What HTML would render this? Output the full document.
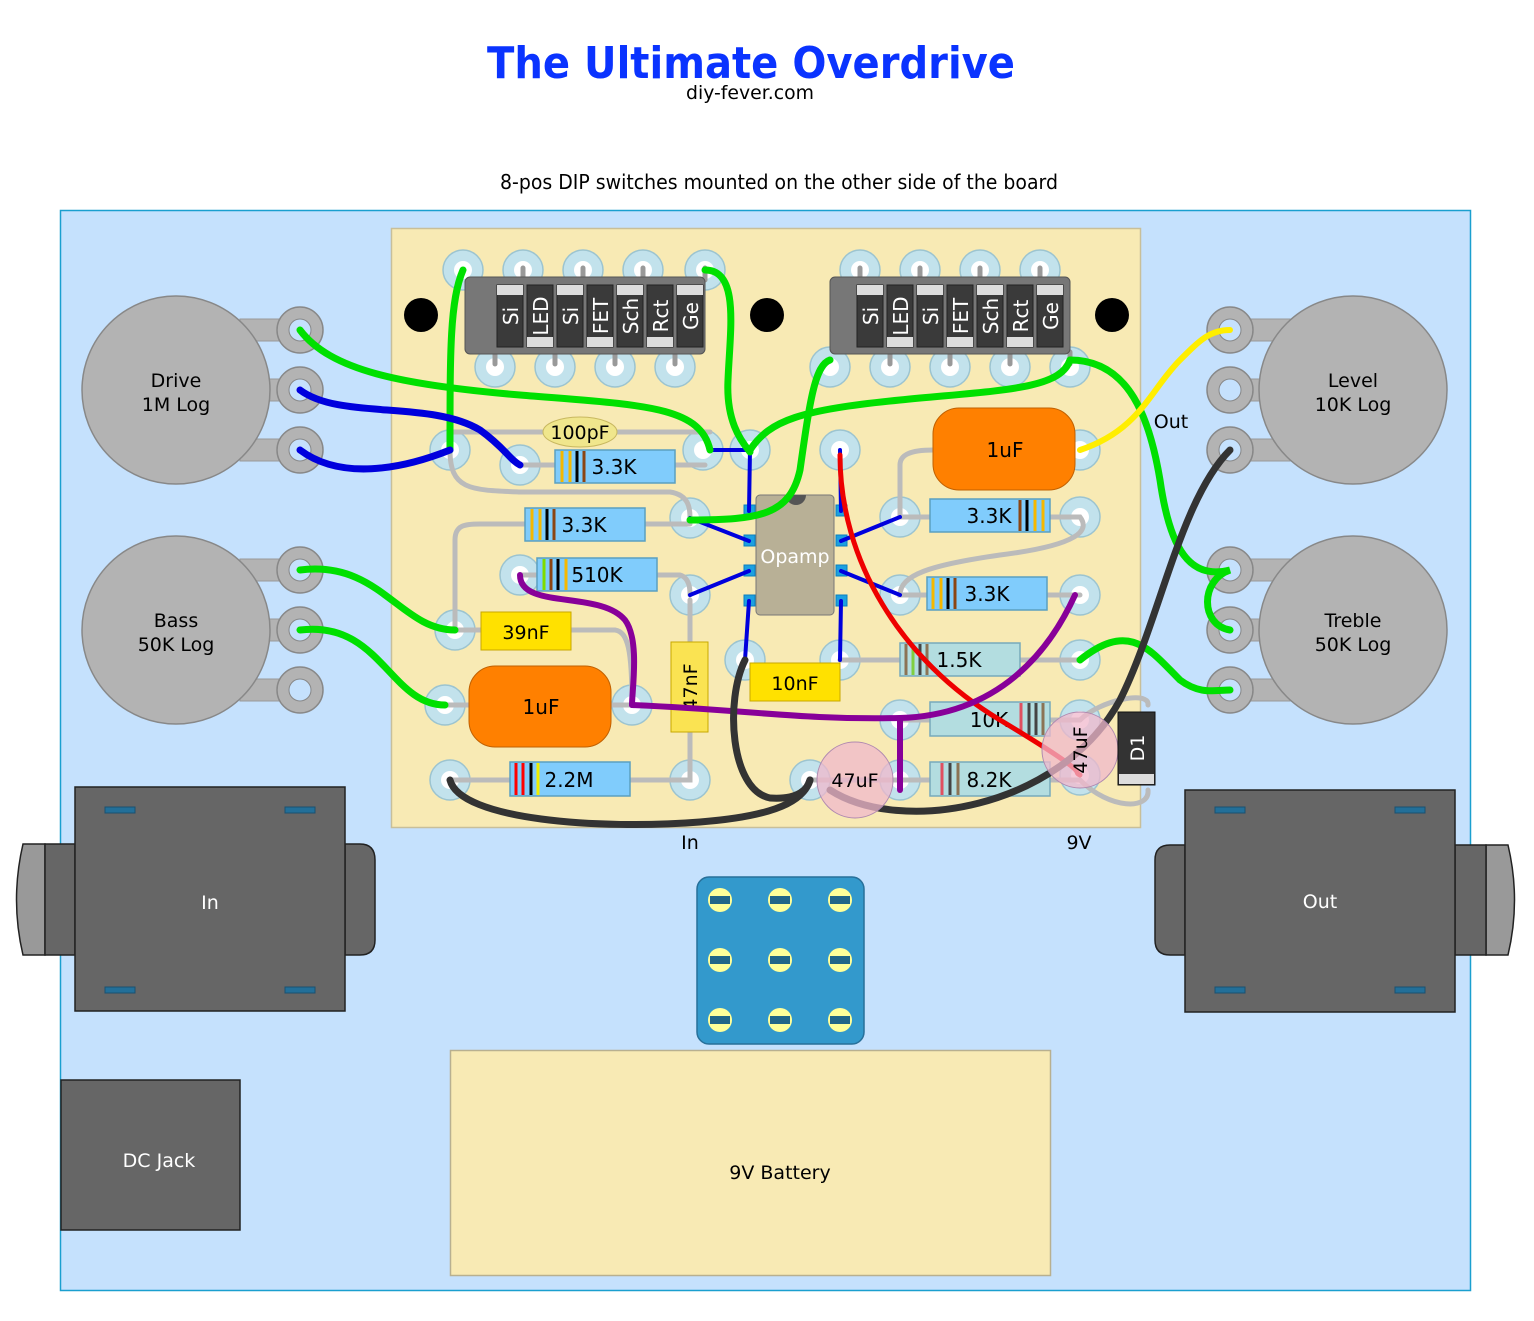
<!DOCTYPE html>
<html><head><meta charset="utf-8"><style>
html,body{margin:0;padding:0;background:#fff}
svg{display:block}
text{font-family:"DejaVu Sans","Liberation Sans",sans-serif}
</style></head><body>
<svg width="1534" height="1321" viewBox="0 0 1534 1321" xmlns="http://www.w3.org/2000/svg">
<defs>
<g id="pad"><circle r="20" fill="#c2e2ec" stroke="#9cc4d0" stroke-width="1.5"/><circle r="9" fill="#fff"/></g>
<g id="lug"><circle r="23" fill="#b3b3b3" stroke="#888" stroke-width="1.5"/><circle r="11" fill="#c5e1fd" stroke="#888"/></g>
<g id="fs"><circle r="12" fill="#ffff99"/><rect x="-10" y="-4" width="20" height="8" fill="#226688"/></g>
</defs>
<text x="751" y="78" font-size="44" font-weight="bold" fill="#0a33ff" text-anchor="middle" textLength="528" lengthAdjust="spacingAndGlyphs">The Ultimate Overdrive</text>
<text x="750" y="99" font-size="19" text-anchor="middle" textLength="128" lengthAdjust="spacingAndGlyphs">diy-fever.com</text>
<text x="779" y="189" font-size="20" text-anchor="middle" textLength="558" lengthAdjust="spacingAndGlyphs">8-pos DIP switches mounted on the other side of the board</text>

<rect x="60.5" y="210.5" width="1410" height="1080" fill="#c5e1fd" stroke="#1a9fcf" stroke-width="1.5"/>

<g>
<rect x="240" y="319" width="60" height="22" fill="#b3b3b3" stroke="#999"/>
<rect x="240" y="379" width="60" height="22" fill="#b3b3b3" stroke="#999"/>
<rect x="240" y="439" width="60" height="22" fill="#b3b3b3" stroke="#999"/>
<circle cx="176" cy="390" r="94" fill="#b3b3b3" stroke="#888" stroke-width="1.5"/>
<use href="#lug" x="300" y="330"/><use href="#lug" x="300" y="390"/><use href="#lug" x="300" y="450"/>
<text x="176" y="387" font-size="19" text-anchor="middle">Drive</text>
<text x="176" y="411" font-size="19" text-anchor="middle">1M Log</text>
<rect x="240" y="559" width="60" height="22" fill="#b3b3b3" stroke="#999"/>
<rect x="240" y="619" width="60" height="22" fill="#b3b3b3" stroke="#999"/>
<rect x="240" y="679" width="60" height="22" fill="#b3b3b3" stroke="#999"/>
<circle cx="176" cy="630" r="94" fill="#b3b3b3" stroke="#888" stroke-width="1.5"/>
<use href="#lug" x="300" y="570"/><use href="#lug" x="300" y="630"/><use href="#lug" x="300" y="690"/>
<text x="176" y="627" font-size="19" text-anchor="middle">Bass</text>
<text x="176" y="651" font-size="19" text-anchor="middle">50K Log</text>
<rect x="1230" y="319" width="60" height="22" fill="#b3b3b3" stroke="#999"/>
<rect x="1230" y="379" width="60" height="22" fill="#b3b3b3" stroke="#999"/>
<rect x="1230" y="439" width="60" height="22" fill="#b3b3b3" stroke="#999"/>
<circle cx="1353" cy="390" r="94" fill="#b3b3b3" stroke="#888" stroke-width="1.5"/>
<use href="#lug" x="1230" y="330"/><use href="#lug" x="1230" y="390"/><use href="#lug" x="1230" y="450"/>
<text x="1353" y="387" font-size="19" text-anchor="middle">Level</text>
<text x="1353" y="411" font-size="19" text-anchor="middle">10K Log</text>
<rect x="1230" y="559" width="60" height="22" fill="#b3b3b3" stroke="#999"/>
<rect x="1230" y="619" width="60" height="22" fill="#b3b3b3" stroke="#999"/>
<rect x="1230" y="679" width="60" height="22" fill="#b3b3b3" stroke="#999"/>
<circle cx="1353" cy="630" r="94" fill="#b3b3b3" stroke="#888" stroke-width="1.5"/>
<use href="#lug" x="1230" y="570"/><use href="#lug" x="1230" y="630"/><use href="#lug" x="1230" y="690"/>
<text x="1353" y="627" font-size="19" text-anchor="middle">Treble</text>
<text x="1353" y="651" font-size="19" text-anchor="middle">50K Log</text>
</g>

<rect x="391.5" y="228.5" width="749" height="599" fill="#f8eab4" stroke="#c8bf9a" stroke-width="1.5"/>
<circle cx="421" cy="315" r="17" fill="#000"/><circle cx="767" cy="315" r="17" fill="#000"/><circle cx="1112" cy="315" r="17" fill="#000"/>

<g>
<use href="#pad" x="463" y="270"/><use href="#pad" x="523" y="270"/><use href="#pad" x="583" y="270"/><use href="#pad" x="643" y="270"/><use href="#pad" x="705" y="270"/>
<use href="#pad" x="495" y="367"/><use href="#pad" x="555" y="367"/><use href="#pad" x="615" y="367"/><use href="#pad" x="675" y="367"/>
<use href="#pad" x="860" y="270"/><use href="#pad" x="920" y="270"/><use href="#pad" x="980" y="270"/><use href="#pad" x="1040" y="270"/>
<use href="#pad" x="830" y="367"/><use href="#pad" x="890" y="367"/><use href="#pad" x="950" y="367"/><use href="#pad" x="1010" y="367"/><use href="#pad" x="1070" y="367"/>
<use href="#pad" x="450" y="450"/><use href="#pad" x="520" y="465"/><use href="#pad" x="703" y="450"/><use href="#pad" x="750" y="450"/><use href="#pad" x="840" y="450"/><use href="#pad" x="1080" y="450"/>
<use href="#pad" x="690" y="518"/><use href="#pad" x="900" y="517"/><use href="#pad" x="1080" y="517"/>
<use href="#pad" x="520" y="575"/><use href="#pad" x="690" y="595"/><use href="#pad" x="900" y="595"/><use href="#pad" x="1080" y="595"/>
<use href="#pad" x="455" y="630"/><use href="#pad" x="745" y="660"/><use href="#pad" x="840" y="660"/><use href="#pad" x="1080" y="660"/>
<use href="#pad" x="445" y="705"/><use href="#pad" x="632" y="705"/><use href="#pad" x="900" y="720"/><use href="#pad" x="1080" y="720"/>
<use href="#pad" x="450" y="780"/><use href="#pad" x="690" y="780"/><use href="#pad" x="810" y="780"/><use href="#pad" x="900" y="780"/><use href="#pad" x="1080" y="775"/>
</g>

<g fill="none" stroke="#bbb" stroke-width="5" stroke-linecap="round">
<path d="M450,432 L710,432"/>
<path d="M520,465 L705,465"/>
<path d="M450,450 C450,490 470,490 520,492 L670,492 C690,495 690,510 690,518"/>
<path d="M455,630 L455,540 C455,525 465,524 480,524 L690,524"/>
<path d="M520,575 L680,575 C690,578 690,590 690,595"/>
<path d="M455,630 L615,630 C628,632 632,650 632,705"/>
<path d="M445,705 L632,705"/>
<path d="M450,780 L690,780 L690,600"/>
<path d="M900,517 L1080,517 C1090,530 1080,545 1000,555 C930,565 900,575 900,595 L1080,595"/>
<path d="M900,517 L900,465 C900,455 910,450 933,450"/>
<path d="M840,660 L1080,660"/>
<path d="M900,720 L1080,720"/>
<path d="M810,780 L1080,780"/>
<path d="M1080,720 C1100,700 1150,690 1148,705 M1080,780 C1110,810 1150,810 1148,790"/>
</g>

<g stroke="#999" stroke-width="5" stroke-linecap="round">
<path d="M523,268v12M583,268v12M643,268v12M705,268v12M495,352v12M555,352v12M615,352v12M675,352v12"/>
<path d="M860,268v12M920,268v12M980,268v12M1040,268v12M890,352v12M950,352v12M1010,352v12M1070,352v12"/>
</g>
<g>
<rect x="465" y="277" width="240" height="77" rx="5" fill="#777" stroke="#555"/>
<rect x="830" y="277" width="240" height="77" rx="5" fill="#777" stroke="#555"/>
</g>
<g font-size="20" fill="#fff">
<g id="dipL">
<rect x="497" y="285" width="26" height="62" fill="#3a3a3a" stroke="#222"/><rect x="497" y="285" width="26" height="10" fill="#ddd"/>
<rect x="527" y="285" width="26" height="62" fill="#3a3a3a" stroke="#222"/><rect x="527" y="337" width="26" height="10" fill="#ddd"/>
<rect x="557" y="285" width="26" height="62" fill="#3a3a3a" stroke="#222"/><rect x="557" y="285" width="26" height="10" fill="#ddd"/>
<rect x="587" y="285" width="26" height="62" fill="#3a3a3a" stroke="#222"/><rect x="587" y="337" width="26" height="10" fill="#ddd"/>
<rect x="617" y="285" width="26" height="62" fill="#3a3a3a" stroke="#222"/><rect x="617" y="285" width="26" height="10" fill="#ddd"/>
<rect x="647" y="285" width="26" height="62" fill="#3a3a3a" stroke="#222"/><rect x="647" y="337" width="26" height="10" fill="#ddd"/>
<rect x="677" y="285" width="26" height="62" fill="#3a3a3a" stroke="#222"/><rect x="677" y="285" width="26" height="10" fill="#ddd"/>
<text transform="translate(518,316) rotate(-90)" text-anchor="middle">Si</text>
<text transform="translate(548,316) rotate(-90)" text-anchor="middle">LED</text>
<text transform="translate(578,316) rotate(-90)" text-anchor="middle">Si</text>
<text transform="translate(608,316) rotate(-90)" text-anchor="middle">FET</text>
<text transform="translate(638,316) rotate(-90)" text-anchor="middle">Sch</text>
<text transform="translate(668,316) rotate(-90)" text-anchor="middle">Rct</text>
<text transform="translate(698,316) rotate(-90)" text-anchor="middle">Ge</text>
</g>
<use href="#dipL" x="360" y="0"/>
</g>

<g stroke="#5aa0c0" stroke-width="1.5">
<rect x="555" y="450" width="120" height="33" fill="#80ccfc"/>
<rect x="525" y="508" width="120" height="33" fill="#80ccfc"/>
<rect x="537" y="558" width="120" height="33" fill="#80ccfc"/>
<rect x="930" y="499" width="120" height="33" fill="#80ccfc"/>
<rect x="927" y="577" width="120" height="33" fill="#80ccfc"/>
<rect x="510" y="762" width="120" height="34" fill="#80ccfc"/>
<rect x="900" y="643" width="120" height="33" fill="#b3dde0" stroke="#7ab"/>
<rect x="930" y="702" width="120" height="34" fill="#b3dde0" stroke="#7ab"/>
<rect x="930" y="762" width="120" height="34" fill="#b3dde0" stroke="#7ab"/>
</g>
<g stroke-width="3">
<path d="M562,451v31M570,451v31" stroke="#f5b800"/><path d="M577,451v31" stroke="#000"/><path d="M584,451v31" stroke="#8b4513"/>
<path d="M532,509v31M540,509v31" stroke="#f5b800"/><path d="M547,509v31" stroke="#000"/><path d="M554,509v31" stroke="#8b4513"/>
<path d="M544,559v31" stroke="#7fdc00"/><path d="M551,559v31" stroke="#8b4513"/><path d="M558,559v31" stroke="#000"/><path d="M566,559v31" stroke="#f5b800"/>
<path d="M1020,500v31" stroke="#8b4513"/><path d="M1027,500v31" stroke="#000"/><path d="M1035,500v31M1043,500v31" stroke="#f5b800"/>
<path d="M933,578v31M941,578v31" stroke="#f5b800"/><path d="M948,578v31" stroke="#000"/><path d="M955,578v31" stroke="#8b4513"/>
<path d="M516,763v32M523,763v32" stroke="#f00"/><path d="M531,763v32" stroke="#000"/><path d="M538,763v32" stroke="#ee0"/>
<path d="M906,644v31" stroke="#8b7355"/><path d="M913,644v31" stroke="#7fcf40"/><path d="M920,644v31" stroke="#444"/><path d="M927,644v31" stroke="#8b7355"/>
<path d="M1021,703v32" stroke="#e05060"/><path d="M1029,703v32M1036,703v32" stroke="#444"/><path d="M1043,703v32" stroke="#8b7355"/>
<path d="M942,763v32" stroke="#e05060"/><path d="M950,763v32" stroke="#444"/><path d="M958,763v32" stroke="#8b7355"/>
</g>
<g font-size="20" text-anchor="middle">
<text x="614" y="474">3.3K</text><text x="584" y="532">3.3K</text><text x="597" y="582">510K</text>
<text x="989" y="523">3.3K</text><text x="987" y="601">3.3K</text><text x="569" y="787">2.2M</text>
<text x="959" y="667">1.5K</text><text x="989" y="727">10K</text><text x="989" y="787">8.2K</text>
</g>

<ellipse cx="580" cy="432" rx="37" ry="15" fill="#f0e68c" stroke="#c8b860"/>
<text x="580" y="439" font-size="19" text-anchor="middle">100pF</text>
<rect x="481" y="612" width="90" height="38" fill="#ffe100" stroke="#c8a800"/>
<text x="526" y="639" font-size="19" text-anchor="middle">39nF</text>
<rect x="750" y="663" width="90" height="38" fill="#ffe100" stroke="#c8a800"/>
<text x="795" y="690" font-size="19" text-anchor="middle">10nF</text>
<rect x="671" y="642" width="37" height="90" fill="#fae352" stroke="#c8a800"/>
<text transform="translate(697,687) rotate(-90)" font-size="19" text-anchor="middle">47nF</text>
<rect x="469" y="666" width="142" height="81" rx="26" fill="#ff8000" stroke="#c06000"/>
<text x="541" y="714" font-size="20" text-anchor="middle">1uF</text>
<rect x="933" y="408" width="142" height="82" rx="26" fill="#ff8000" stroke="#c06000"/>
<text x="1005" y="457" font-size="20" text-anchor="middle">1uF</text>

<g fill="#1ca0e0" stroke="#0a80c0">
<rect x="744" y="505" width="11" height="11"/><rect x="744" y="535" width="11" height="11"/><rect x="744" y="565" width="11" height="11"/><rect x="744" y="595" width="11" height="11"/>
<rect x="836" y="505" width="11" height="11"/><rect x="836" y="535" width="11" height="11"/><rect x="836" y="565" width="11" height="11"/><rect x="836" y="595" width="11" height="11"/>
</g>
<rect x="756" y="495" width="78" height="120" rx="4" fill="#b8b096" stroke="#777"/>
<path d="M786,495 a10,10 0 0 0 20,0z" fill="#555"/>
<text x="795" y="563" font-size="19" fill="#fff" text-anchor="middle">Opamp</text>

<g fill="none" stroke-linecap="round">
<g stroke="#0000dd" stroke-width="4">
<path d="M749,511 L750,450 L710,450"/>
<path d="M749,541 L690,518"/><path d="M749,571 L690,595"/><path d="M749,601 L745,660"/>
<path d="M841,511 L840,450"/><path d="M841,541 L900,517"/><path d="M841,571 L900,595"/><path d="M841,601 L840,660"/>
</g>
<path d="M840,455 C840,560 900,660 1000,720 S1070,770 1080,775" stroke="#ee0000" stroke-width="5"/>
<g stroke="#00e000" stroke-width="7">
<path d="M300,330 C330,370 400,385 520,395 C640,405 700,405 710,450"/>
<path d="M463,270 C450,300 450,350 450,450"/>
<path d="M705,270 C740,270 730,330 728,380 C726,420 740,440 750,452"/>
<path d="M750,450 C770,420 800,410 900,400 C1000,390 1060,390 1070,360"/>
<path d="M690,520 C760,520 790,515 800,470 C810,400 815,365 830,360"/>
<path d="M1070,360 C1130,360 1150,420 1160,480 C1170,550 1190,580 1230,570 C1200,580 1200,625 1230,630"/>
<path d="M300,570 C380,560 400,630 455,630"/>
<path d="M300,630 C380,620 390,705 445,705"/>
<path d="M1080,660 C1130,620 1150,650 1180,680 C1200,695 1215,690 1230,690"/>
</g>
<g stroke="#0000dd" stroke-width="7">
<path d="M300,390 C340,420 430,400 480,430 C505,448 510,460 520,465"/>
<path d="M300,450 C340,480 400,470 450,450"/>
</g>
<path d="M1080,450 C1140,430 1150,390 1180,360 C1200,340 1210,330 1230,330" stroke="#ffee00" stroke-width="6"/>
<g stroke="#880099" stroke-width="6">
<path d="M520,575 C520,610 600,590 625,620 C640,640 632,690 632,705"/>
<path d="M632,705 C750,710 800,720 900,718 C1000,715 1050,650 1075,595"/>
<path d="M900,718 L900,790"/>
</g>
<g stroke="#333" stroke-width="7">
<path d="M450,780 C460,820 600,830 700,822 C790,815 805,795 810,780"/>
<path d="M745,660 C725,700 730,790 770,798 C800,800 808,788 810,780"/>
<path d="M1230,450 C1180,500 1160,620 1120,700 C1060,810 900,835 830,790"/>
</g>
</g>

<circle cx="855" cy="780" r="38" fill="#f0b8cc" fill-opacity="0.75" stroke="#b08ab0"/>
<text x="855" y="787" font-size="19" text-anchor="middle">47uF</text>
<circle cx="1080" cy="750" r="38" fill="#f0b8cc" fill-opacity="0.75" stroke="#b08ab0"/>
<text transform="translate(1087,750) rotate(-90)" font-size="19" text-anchor="middle">47uF</text>
<rect x="1118" y="712" width="37" height="73" fill="#333" stroke="#111"/>
<rect x="1119" y="774" width="35" height="10" fill="#ddd"/>
<text transform="translate(1144,748) rotate(-90)" font-size="19" fill="#fff" text-anchor="middle">D1</text>

<text x="690" y="849" font-size="19" text-anchor="middle">In</text>
<text x="1079" y="849" font-size="19" text-anchor="middle">9V</text>
<text x="1171" y="428" font-size="19" text-anchor="middle">Out</text>

<path d="M23,844 L45,844 L45,955 L23,955 Q10,900 23,844Z" fill="#999" stroke="#222" stroke-width="1.5"/>
<rect x="45" y="844" width="30" height="111" fill="#666" stroke="#222" stroke-width="1.5"/>
<path d="M345,844 L360,844 Q375,844 375,860 L375,940 Q375,955 360,955 L345,955Z" fill="#666" stroke="#222" stroke-width="1.5"/>
<rect x="75" y="787" width="270" height="224" fill="#666" stroke="#222" stroke-width="1.5"/>
<g fill="#226f99" stroke="#1a5070"><rect x="105" y="807" width="30" height="6"/><rect x="285" y="807" width="30" height="6"/><rect x="105" y="987" width="30" height="6"/><rect x="285" y="987" width="30" height="6"/></g>
<text x="210" y="909" font-size="19" fill="#fff" text-anchor="middle">In</text>
<path d="M1508,845 L1486,845 L1486,955 L1508,955 Q1521,900 1508,845Z" fill="#999" stroke="#222" stroke-width="1.5"/>
<rect x="1455" y="845" width="31" height="110" fill="#666" stroke="#222" stroke-width="1.5"/>
<path d="M1185,845 L1170,845 Q1155,845 1155,860 L1155,940 Q1155,955 1170,955 L1185,955Z" fill="#666" stroke="#222" stroke-width="1.5"/>
<rect x="1185" y="790" width="270" height="222" fill="#666" stroke="#222" stroke-width="1.5"/>
<g fill="#226f99" stroke="#1a5070"><rect x="1215" y="807" width="30" height="6"/><rect x="1395" y="807" width="30" height="6"/><rect x="1215" y="987" width="30" height="6"/><rect x="1395" y="987" width="30" height="6"/></g>
<text x="1320" y="908" font-size="19" fill="#fff" text-anchor="middle">Out</text>

<rect x="697" y="877" width="167" height="167" rx="12" fill="#3399cc" stroke="#27709a" stroke-width="1.5"/>
<use href="#fs" x="720" y="900"/><use href="#fs" x="780" y="900"/><use href="#fs" x="840" y="900"/>
<use href="#fs" x="720" y="960"/><use href="#fs" x="780" y="960"/><use href="#fs" x="840" y="960"/>
<use href="#fs" x="720" y="1020"/><use href="#fs" x="780" y="1020"/><use href="#fs" x="840" y="1020"/>

<rect x="61" y="1080" width="179" height="150" fill="#666" stroke="#222" stroke-width="1.5"/>
<text x="159" y="1167" font-size="19" fill="#fff" text-anchor="middle">DC Jack</text>
<rect x="450.5" y="1050.5" width="600" height="225" fill="#f8eab4" stroke="#b8b090" stroke-width="1.5"/>
<text x="780" y="1179" font-size="19" text-anchor="middle">9V Battery</text>
</svg>
</body></html>
